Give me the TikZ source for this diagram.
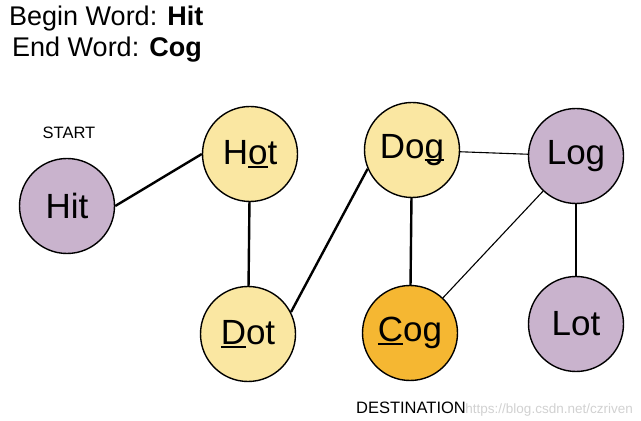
\documentclass[tikz,border=0pt]{standalone}
\usepackage{fontspec}
\setmainfont{Liberation Sans}
\definecolor{wordpurple}{RGB}{201,179,205}
\definecolor{wordyellow}{RGB}{250,231,162}
\definecolor{wordorange}{RGB}{245,183,50}
% underline one letter of a word
\newcommand{\ulet}[1]{\setbox0\hbox{#1}\rlap{\rule[-3pt]{\wd0}{2pt}}\box0}
\begin{document}
\begin{tikzpicture}[x=1pt,y=1pt,
  word/.style={circle,draw,line width=1.4pt,minimum size=95pt,inner sep=0pt,
    font=\fontsize{35}{40}\selectfont},
  hop/.style={line width=2.4pt},
  link/.style={line width=1.1pt},
  tag/.style={font=\fontsize{16.5}{19}\selectfont,inner sep=0pt}]
\useasboundingbox (0,0) rectangle (641,421);
% header
\node[anchor=base west,inner sep=0pt,font=\fontsize{27}{31}\selectfont] (begin) at (9,395) {Begin Word: \textbf{Hit}};
\node[anchor=base west,inner sep=0pt,font=\fontsize{27}{31}\selectfont] (end) at (12,364) {End Word: \textbf{Cog}};
% words
\node[word,fill=wordpurple] (hit) at (67,215) {Hit};
\node[word,fill=wordyellow] (hot) at (250,267) {H\ulet{o}t};
\node[word,fill=wordyellow] (dot) at (248,87) {\ulet{D}ot};
\node[word,fill=wordyellow] (dog) at (412,271) {Do\ulet{g}};
\node[word,fill=wordorange] (cog) at (410,88) {\ulet{C}og};
\node[word,fill=wordpurple] (log) at (576,265) {Log};
\node[word,fill=wordpurple] (lot) at (576,97) {Lot};
% labels
\node[tag,anchor=base] (start) at (69,282) {START};
\node[tag,anchor=base] (dest) at (411,7) {DESTINATION};
\node[tag,anchor=base east,text=black!18,font=\fontsize{13.5}{16}\selectfont] (mark) at (633,7) {https://blog.csdn.net/czriven};
% path edges
\draw[hop] (hit.east) -- (hot.west);
\draw[hop] (hot) -- (dot);
\draw[hop] (dot.27) -- (dog.203);
\draw[hop] (dog) -- (cog);
% other edges
\draw[link] (dog) -- (log);
\draw[link] (cog) -- (log);
\draw[link] (log) -- (lot);
\end{tikzpicture}
\end{document}
